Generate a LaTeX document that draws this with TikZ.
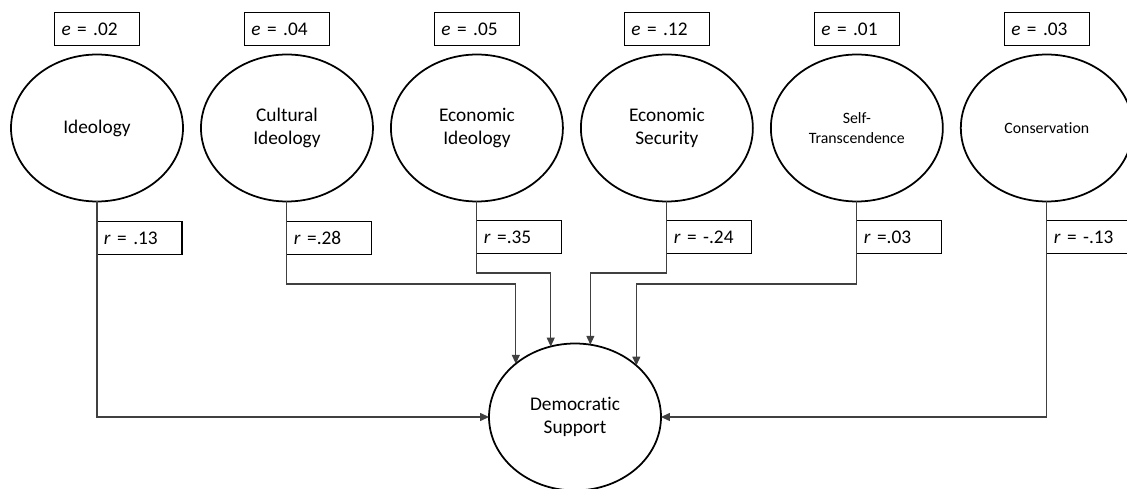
\documentclass[tikz,border=0pt]{standalone}
\usepackage{fontspec}
\setmainfont{Carlito}[Ligatures=CommonOff]
\usetikzlibrary{positioning, arrows.meta, shapes.geometric}

\begin{document}
\begin{tikzpicture}[
    x=0.02cm, y=-0.02cm,
    node distance=0.36cm,
    >={Triangle[length=5pt, width=4.5pt]},
    latent/.style={ellipse, draw, line width=1pt, minimum width=3.44cm, minimum height=2.94cm, inner sep=0pt, outer sep=0pt, align=center, font=\fontsize{11}{13.4}\selectfont},
    small/.style={font=\fontsize{9}{11.4}\selectfont},
    errbox/.style={rectangle, draw, line width=0.6pt, minimum width=1.7cm, minimum height=0.66cm, text width=1.42cm, align=left, inner xsep=0.14cm, inner ysep=0pt, outer sep=0pt, font=\fontsize{11}{13}\selectfont},
    link/.style={->, draw=black!75, line width=0.6pt},
]
\useasboundingbox (0,0) rectangle (1127,489);

% Nodes
\node [latent] (ideo) at (97,128) {Ideology};
\node [latent, right=of ideo] (cult) {Cultural\\Ideology};
\node [latent, right=of cult] (econ) {Economic\\Ideology};
\node [latent, right=of econ] (secu) {Economic\\Security};
\node [latent, small, right=of secu] (self) {Self-\\Transcendence};
\node [latent, small, right=of self] (cons) {Conservation};
\node [latent] (dem) at (575,417) {Democrat\kern0pt ic\\Support};

% Error boxes
\node [errbox, above=0.18cm of ideo] (e1) {\textit{e} = .02};
\node [errbox, above=0.18cm of cult] (e2) {\textit{e} = .04};
\node [errbox, above=0.18cm of econ] (e3) {\textit{e} = .05};
\node [errbox, above=0.18cm of secu] (e4) {\textit{e} = .12};
\node [errbox, above=0.18cm of self] (e5) {\textit{e} = .01};
\node [errbox, above=0.18cm of cons] (e6) {\textit{e} = .03};

% Correlation boxes
\node [errbox, below right=0.4cm and 0cm of ideo.south] (r1) {\textit{r} = .13};
\node [errbox, below right=0.4cm and 0cm of cult.south] (r2) {\textit{r} =.28};
\node [errbox, below right=0.38cm and 0cm of econ.south] (r3) {\textit{r} =.35};
\node [errbox, below right=0.38cm and 0cm of secu.south] (r4) {\textit{r} = -.24};
\node [errbox, below right=0.38cm and 0cm of self.south] (r5) {\textit{r} =.03};
\node [errbox, below right=0.38cm and 0cm of cons.south] (r6) {\textit{r} = -.13};

\coordinate (hiA) at (0,273);
\coordinate (hiB) at (0,284);

% Lines
\draw [link] (ideo.south) |- (dem.west);
\draw [link] (cult.south) |- (dem.138 |- hiB) -- (dem.138);
\draw [link] (econ.south) |- (dem.109 |- hiA) -- (dem.109);
\draw [link] (secu.south) |- (dem.78 |- hiA) -- (dem.78);
\draw [link] (self.south) |- (dem.40 |- hiB) -- (dem.40);
\draw [link] (cons.south) |- (dem.east);

\end{tikzpicture}
\end{document}
